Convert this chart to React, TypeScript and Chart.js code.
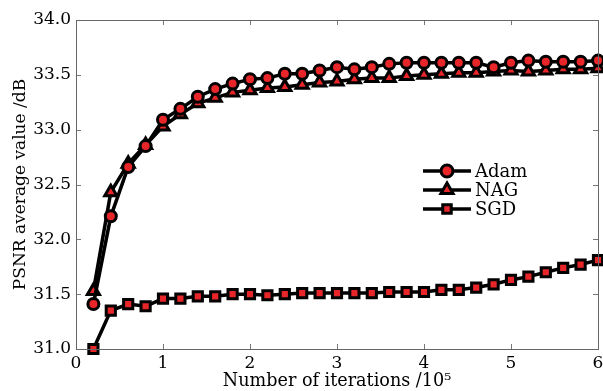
import React, { useEffect, useRef } from "react";
import { Chart, registerables, LineController } from "chart.js";

Chart.register(...registerables);

// Keep the plot area at its exact position (no extra overflow padding from large markers)
(LineController.prototype as any).getMaxOverflow = function () { return 0; };

const xValues = [0.2, 0.4, 0.6, 0.8, 1.0, 1.2, 1.4, 1.6, 1.8, 2.0, 2.2, 2.4, 2.6, 2.8, 3.0, 3.2, 3.4, 3.6, 3.8, 4.0, 4.2, 4.4, 4.6, 4.8, 5.0, 5.2, 5.4, 5.6, 5.8, 6.0];
const adam = [31.41, 32.21, 32.66, 32.85, 33.09, 33.19, 33.30, 33.37, 33.42, 33.46, 33.47, 33.51, 33.51, 33.54, 33.57, 33.55, 33.57, 33.60, 33.61, 33.61, 33.61, 33.61, 33.61, 33.57, 33.61, 33.63, 33.62, 33.62, 33.62, 33.63];
const nag = [31.53, 32.43, 32.69, 32.86, 33.03, 33.14, 33.24, 33.29, 33.34, 33.36, 33.38, 33.39, 33.41, 33.43, 33.44, 33.46, 33.47, 33.47, 33.49, 33.50, 33.51, 33.52, 33.52, 33.53, 33.54, 33.53, 33.54, 33.55, 33.55, 33.56];
const sgd = [31.0, 31.35, 31.41, 31.39, 31.46, 31.46, 31.48, 31.48, 31.50, 31.50, 31.49, 31.50, 31.51, 31.51, 31.51, 31.51, 31.51, 31.52, 31.52, 31.52, 31.54, 31.54, 31.56, 31.59, 31.63, 31.66, 31.70, 31.74, 31.77, 31.81];
const seriesNames = ["Adam", "NAG", "SGD"];
const xTitle = "Number of iterations /10\u2075";
const yTitle = "PSNR average value /dB";

const FONT = "'DejaVu Serif', serif";
const RED = "#e8262a";

function drawMarker(ctx: CanvasRenderingContext2D, style: string, x: number, y: number, r: number) {
  ctx.beginPath();
  if (style === "circle") {
    ctx.arc(x, y, r, 0, Math.PI * 2);
  } else if (style === "triangle") {
    ctx.moveTo(x, y - r);
    ctx.lineTo(x - r * 0.866, y + r * 0.5);
    ctx.lineTo(x + r * 0.866, y + r * 0.5);
    ctx.closePath();
  } else {
    const s = r * Math.SQRT1_2;
    ctx.rect(x - s, y - s, 2 * s, 2 * s);
  }
  ctx.fillStyle = RED;
  ctx.fill();
  ctx.lineWidth = 3;
  ctx.strokeStyle = "#000";
  ctx.stroke();
}

const innerTicksPlugin = {
  id: "innerTicks",
  afterDatasetsDraw(chart: any) {
    const { ctx, chartArea, scales } = chart;
    const { left, right, top, bottom } = chartArea;
    ctx.save();
    ctx.strokeStyle = "#777";
    ctx.lineWidth = 1;
    ctx.beginPath();
    scales.x.ticks.forEach((t: any) => {
      const px = Math.round(scales.x.getPixelForValue(t.value)) + 0.5;
      ctx.moveTo(px, bottom);
      ctx.lineTo(px, bottom - 5);
      ctx.moveTo(px, top);
      ctx.lineTo(px, top + 5);
    });
    scales.y.ticks.forEach((t: any) => {
      const py = Math.round(scales.y.getPixelForValue(t.value)) + 0.5;
      ctx.moveTo(left, py);
      ctx.lineTo(left + 5, py);
      ctx.moveTo(right, py);
      ctx.lineTo(right - 5, py);
    });
    ctx.stroke();
    ctx.strokeStyle = "#666";
    ctx.strokeRect(Math.round(left) + 0.5, Math.round(top) + 0.5, Math.round(right - left), Math.round(bottom - top));
    ctx.restore();
  },
};

const legendPlugin = {
  id: "customLegend",
  afterDraw(chart: any) {
    const { ctx, chartArea } = chart;
    const x0 = chartArea.left + 347;
    const y0 = chartArea.top + 151;
    const rowH = 19;
    ctx.save();
    chart.data.datasets.forEach((ds: any, i: number) => {
      const y = y0 + i * rowH;
      ctx.beginPath();
      ctx.moveTo(x0, y);
      ctx.lineTo(x0 + 48, y);
      ctx.strokeStyle = "#000";
      ctx.lineWidth = 3.5;
      ctx.stroke();
      drawMarker(ctx, ds.pointStyle, x0 + 24, y, ds.pointStyle === "triangle" ? 7 : 6);
      ctx.fillStyle = "#000";
      ctx.font = `18px ${FONT}`;
      ctx.textBaseline = "middle";
      ctx.textAlign = "left";
      ctx.fillText(ds.label, x0 + 52, y + 1);
    });
    ctx.restore();
  },
};

export default function App() {
  const ref = useRef<HTMLCanvasElement | null>(null);
  useEffect(() => {
    document.body.style.margin = "0";
    if (!ref.current) return;
    const mk = (vals: number[]) => vals.map((v, i) => ({ x: xValues[i], y: v }));
    const common = {
      borderColor: "#000",
      borderWidth: 3.5,
      pointBackgroundColor: RED,
      pointBorderColor: "#000",
      pointBorderWidth: 3,
      tension: 0,
      fill: false,
      clip: false as any,
    };
    const chart = new Chart(ref.current, {
      type: "line",
      data: {
        datasets: [
          { ...common, label: seriesNames[0], data: mk(adam), pointStyle: "circle", pointRadius: 5.5 },
          { ...common, label: seriesNames[1], data: mk(nag), pointStyle: "triangle", pointRadius: 7 },
          { ...common, label: seriesNames[2], data: mk(sgd), pointStyle: "rect", pointRadius: 6.5 },
        ],
      },
      options: {
        animation: false,
        responsive: false,
        layout: { padding: { left: 0, top: 20, right: 5, bottom: 0 } },
        plugins: { legend: { display: false }, tooltip: { enabled: false } },
        scales: {
          x: {
            type: "linear",
            min: 0,
            max: 6,
            border: { display: false },
            grid: { display: false, drawTicks: false },
            ticks: { stepSize: 1, color: "#000", padding: 4, font: { family: FONT, size: 17 } },
            title: { display: true, text: xTitle, color: "#000", padding: { top: 0, bottom: 1 }, font: { family: FONT, size: 17.6, lineHeight: 1 } },
            afterFit: (s: any) => { s.height = 42; s.paddingLeft = 0; s.paddingRight = 0; },
          },
          y: {
            type: "linear",
            min: 31,
            max: 34,
            border: { display: false },
            grid: { display: false, drawTicks: false },
            ticks: { stepSize: 0.5, color: "#000", padding: 5, font: { family: FONT, size: 17 }, callback: (v: any) => Number(v).toFixed(1) },
            title: { display: true, text: yTitle, color: "#000", padding: { top: 12, bottom: 0 }, font: { family: FONT, size: 17, lineHeight: 1 } },
            afterFit: (s: any) => { s.width = 76; s.paddingTop = 0; s.paddingBottom = 0; },
          },
        },
      },
      plugins: [innerTicksPlugin, legendPlugin],
    });
    return () => chart.destroy();
  }, []);
  return (
    <canvas ref={ref} width={603} height={391} style={{ display: "block", position: "fixed", left: 0, top: 0, width: 603, height: 391 }} />
  );
}
